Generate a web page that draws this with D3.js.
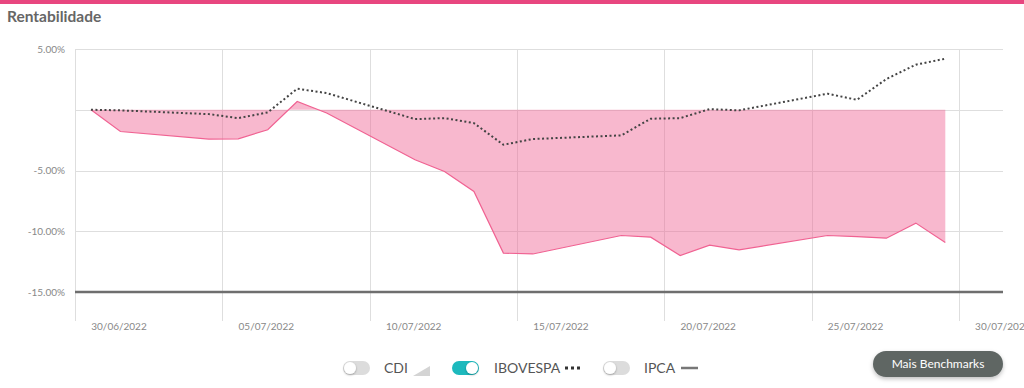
<!DOCTYPE html>
<html>
<head>
<meta charset="utf-8">
<script src="https://cdn.jsdelivr.net/npm/d3@7"></script>
<style>
  body { margin: 0; background: #fff; font-family: Lato, "Open Sans", sans-serif; }
  svg { display: block; }
</style>
</head>
<body>
<script>
// business days of the period
var dates = ["2022-06-30", "2022-07-01", "2022-07-04", "2022-07-05", "2022-07-06", "2022-07-07",
  "2022-07-08", "2022-07-11", "2022-07-12", "2022-07-13", "2022-07-14", "2022-07-15",
  "2022-07-18", "2022-07-19", "2022-07-20", "2022-07-21", "2022-07-22", "2022-07-25",
  "2022-07-26", "2022-07-27", "2022-07-28", "2022-07-29"];
var fundo = [0, -1.79, -2.41, -2.39, -1.65, 0.68, -0.27, -4.12, -5.08, -6.73, -11.8, -11.87,
  -10.35, -10.49, -12.0, -11.15, -11.53, -10.35, -10.45, -10.57, -9.33, -10.93];
var ibovespa = [0, -0.05, -0.36, -0.69, -0.22, 1.73, 1.37, -0.77, -0.69, -1.1, -2.88, -2.41,
  -2.11, -0.74, -0.69, 0.05, -0.05, 1.32, 0.82, 2.53, 3.71, 4.2];
var yTicks = [5, 0, -5, -10, -15];
var yTickLabels = ["5.00%", "", "-5.00%", "-10.00%", "-15.00%"];
var xTicks = ["2022-06-30", "2022-07-05", "2022-07-10", "2022-07-15", "2022-07-20", "2022-07-25", "2022-07-30"];
var xTickLabels = ["30/06/2022", "05/07/2022", "10/07/2022", "15/07/2022", "20/07/2022", "25/07/2022", "30/07/2022"];

var W = 1024, H = 388;
var plotLeft = 75, plotRight = 1003, plotTop = 49, plotBottom = 321;

var svg = d3.select("body").append("svg").attr("width", W).attr("height", H);

svg.append("rect").attr("x", 0).attr("y", 0).attr("width", W).attr("height", 4).attr("fill", "#e8467f");

svg.append("text").attr("x", 7).attr("y", 22)
  .attr("font-size", 15.5).attr("font-weight", "bold").attr("fill", "#666")
  .text("Rentabilidade");

var parse = d3.timeParse("%Y-%m-%d");
var x = d3.scaleTime()
  .domain([parse("2022-06-30"), new Date(2022, 6, 31, 12)])
  .range([plotLeft, plotRight]);
var y = d3.scaleLinear().domain([-15, 5]).range([292, 49]);

// data points sit around mid day
function px(s) { return x(d3.timeHour.offset(parse(s), 13)); }

var pts = dates.map(function (d, i) { return {d: d, f: fundo[i], b: ibovespa[i]}; });

// horizontal grid
svg.append("g").selectAll("line").data(yTicks.slice(0, 4)).join("line")
  .attr("x1", plotLeft).attr("x2", plotRight)
  .attr("y1", function (d) { return Math.round(y(d)) + 0.5; })
  .attr("y2", function (d) { return Math.round(y(d)) + 0.5; })
  .attr("stroke", "#dedede").attr("stroke-width", 1);

// vertical grid
svg.append("g").selectAll("line").data(xTicks).join("line")
  .attr("x1", function (d) { return Math.round(x(parse(d))) + 0.5; })
  .attr("x2", function (d) { return Math.round(x(parse(d))) + 0.5; })
  .attr("y1", plotTop).attr("y2", plotBottom)
  .attr("stroke", "#dedede").attr("stroke-width", 1);

// y labels
svg.append("g").selectAll("text").data(yTicks).join("text")
  .attr("x", 65).attr("y", function (d) { return y(d) + 3.5; })
  .attr("text-anchor", "end").attr("font-size", 10).attr("fill", "#888")
  .text(function (d, i) { return yTickLabels[i]; });

// x labels
svg.append("g").selectAll("text").data(xTicks).join("text")
  .attr("x", function (d) { return x(parse(d)) + 44; }).attr("y", 330)
  .attr("text-anchor", "middle").attr("font-size", 10).attr("fill", "#888")
  .text(function (d, i) { return xTickLabels[i]; });

// fund area
var area = d3.area()
  .x(function (d) { return px(d.d); })
  .y0(y(0)).y1(function (d) { return y(d.f); });
svg.append("path").datum(pts).attr("d", area)
  .attr("fill", "rgba(240, 98, 146, 0.45)");
var line = d3.line().x(function (d) { return px(d.d); }).y(function (d) { return y(d.f); });
svg.append("path").datum(pts).attr("d", line)
  .attr("fill", "none").attr("stroke", "#f06292").attr("stroke-width", 1.2);

// ibovespa dotted
var lineB = d3.line().x(function (d) { return px(d.d); }).y(function (d) { return y(d.b); });
svg.append("path").datum(pts).attr("d", lineB)
  .attr("fill", "none").attr("stroke", "#444").attr("stroke-width", 2)
  .attr("stroke-dasharray", "2,2.5");

// -15% axis line
svg.append("line").attr("x1", plotLeft).attr("x2", plotRight)
  .attr("y1", y(-15)).attr("y2", y(-15))
  .attr("stroke", "#6e6e6e").attr("stroke-width", 2.5);

// legend
var legend = [
  {name: "CDI", on: false, tx: 343, lx: 384},
  {name: "IBOVESPA", on: true, tx: 452, lx: 494},
  {name: "IPCA", on: false, tx: 603, lx: 644}
];
var ly = 368;
var defs = svg.append("defs");
var f = defs.append("filter").attr("id", "sh").attr("x", "-50%").attr("y", "-50%").attr("width", "200%").attr("height", "200%");
f.append("feDropShadow").attr("dx", 0).attr("dy", 1).attr("stdDeviation", 1).attr("flood-color", "#000").attr("flood-opacity", 0.3);
var f2 = defs.append("filter").attr("id", "sh2").attr("x", "-20%").attr("y", "-50%").attr("width", "140%").attr("height", "200%");
f2.append("feDropShadow").attr("dx", 0).attr("dy", 2).attr("stdDeviation", 2).attr("flood-color", "#000").attr("flood-opacity", 0.25);

legend.forEach(function (l) {
  var g = svg.append("g");
  g.append("rect").attr("x", l.tx).attr("y", ly - 7).attr("width", 27).attr("height", 14)
    .attr("rx", 7).attr("fill", l.on ? "#1db9bd" : "#dcdcdc");
  g.append("circle").attr("cx", l.on ? l.tx + 20 : l.tx + 7).attr("cy", ly).attr("r", 6)
    .attr("fill", "#fff").attr("filter", "url(#sh)");
  g.append("text").attr("x", l.lx).attr("y", ly + 5).attr("font-size", 14).attr("fill", "#555")
    .text(l.name);
});
svg.append("path").attr("d", "M413,376 L430,376 L430,366 Z").attr("fill", "#d4d4d4");
svg.append("line").attr("x1", 565).attr("x2", 581).attr("y1", ly).attr("y2", ly)
  .attr("stroke", "#333").attr("stroke-width", 3).attr("stroke-dasharray", "3,3");
svg.append("line").attr("x1", 681).attr("x2", 698).attr("y1", ly).attr("y2", ly)
  .attr("stroke", "#777").attr("stroke-width", 2.5);

// button
svg.append("rect").attr("x", 873).attr("y", 351).attr("width", 130).attr("height", 26)
  .attr("rx", 13).attr("fill", "#5f6664").attr("filter", "url(#sh2)");
svg.append("text").attr("x", 938).attr("y", 368).attr("text-anchor", "middle")
  .attr("font-size", 12).attr("fill", "#fff").text("Mais Benchmarks");
</script>
</body>
</html>
